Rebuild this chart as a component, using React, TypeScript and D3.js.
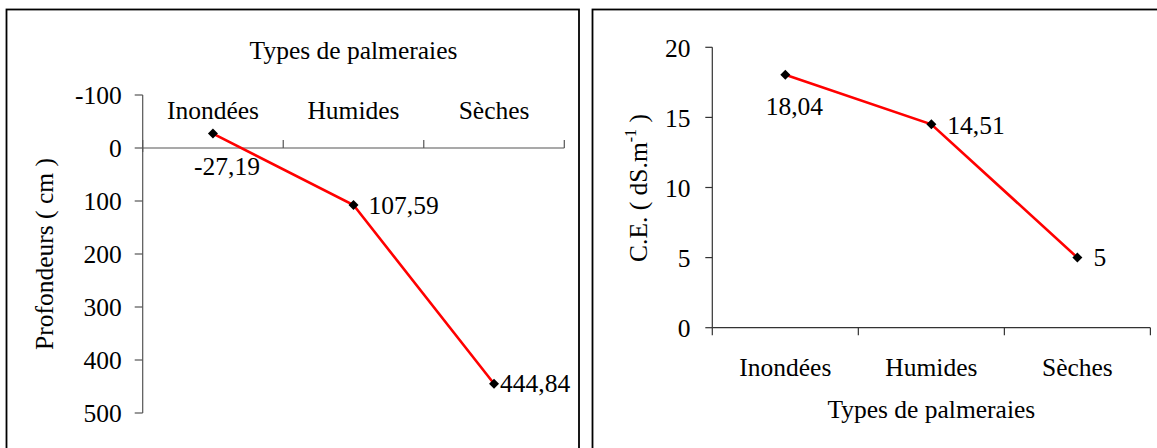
import React from "react";
import * as d3 from "d3";

// ---- Data ----
const categories = ["Inondées", "Humides", "Sèches"];
const depthValues = [-27.19, 107.59, 444.84];
const depthLabels = ["-27,19", "107,59", "444,84"];
const depthTicks = [-100, 0, 100, 200, 300, 400, 500];
const ceValues = [18.04, 14.51, 5];
const ceLabels = ["18,04", "14,51", "5"];
const ceTicks = [0, 5, 10, 15, 20];
const xTitle = "Types de palmeraies";
const depthTitle = "Profondeurs ( cm )";

// ---- Layout ----
const W = 1157;
const H = 448;
const FONT = "'Liberation Serif', 'Times New Roman', serif";
const FS = 25.5;

const left = { x0: 142.7, x1: 564.3, y0: 95, y1: 413 };
const right = { x0: 712.3, x1: 1150.4, y0: 47.3, y1: 327.7 };

const depthLabelOffsets = [
  { dx: 14, dy: 41, anchor: "middle" },
  { dx: 15, dy: 8.5, anchor: "start" },
  { dx: 6, dy: 8.5, anchor: "start" },
];
const ceLabelOffsets = [
  { dx: 9, dy: 40, anchor: "middle" },
  { dx: 16, dy: 9.5, anchor: "start" },
  { dx: 16, dy: 8, anchor: "start" },
];

const marker = d3.symbol().type(d3.symbolSquare).size(50)();

export default function App() {
  // Left chart scales
  const xL = d3.scaleBand<string>().domain(categories).range([left.x0, left.x1]).padding(0);
  const yL = d3.scaleLinear().domain([-100, 500]).range([left.y0, left.y1]);
  const lineL = d3
    .line<number>()
    .x((_, i) => (xL(categories[i]) as number) + xL.bandwidth() / 2)
    .y((d) => yL(d));

  // Right chart scales
  const xR = d3.scaleBand<string>().domain(categories).range([right.x0, right.x1]).padding(0);
  const yR = d3.scaleLinear().domain([0, 20]).range([right.y1, right.y0]);
  const lineR = d3
    .line<number>()
    .x((_, i) => (xR(categories[i]) as number) + xR.bandwidth() / 2)
    .y((d) => yR(d));

  const axisColor = "#555";
  const boundariesL = [...categories.map((c) => xL(c) as number), left.x1];
  const boundariesR = [...categories.map((c) => xR(c) as number), right.x1];

  return (
    <svg
      width={W}
      height={H}
      style={{ position: "absolute", left: 0, top: 0, background: "#fff", fontFamily: FONT }}
      fontSize={FS}
    >
      <rect x={0} y={0} width={W} height={H} fill="#fff" />
      {/* Panel borders */}
      <rect x={6.5} y={9.5} width={572.5} height={460} fill="none" stroke="#000" strokeWidth={1.8} />
      <rect x={592.5} y={9.5} width={600} height={460} fill="none" stroke="#000" strokeWidth={1.8} />

      {/* ---------- Left chart ---------- */}
      <g>
        <text x={(left.x0 + left.x1) / 2} y={58.5} textAnchor="middle">
          {xTitle}
        </text>
        {/* y axis */}
        <line x1={left.x0} x2={left.x0} y1={left.y0} y2={left.y1} stroke={axisColor} strokeWidth={1.2} />
        {depthTicks.map((t) => (
          <g key={t}>
            <line x1={left.x0 - 8} x2={left.x0} y1={yL(t)} y2={yL(t)} stroke={axisColor} strokeWidth={1.2} />
            <text x={left.x0 - 21} y={yL(t) + 9} textAnchor="end">
              {t}
            </text>
          </g>
        ))}
        {/* x axis at 0 */}
        <line x1={left.x0} x2={left.x1} y1={yL(0)} y2={yL(0)} stroke={axisColor} strokeWidth={1.2} />
        {boundariesL.map((b, i) => (
          <line key={i} x1={b} x2={b} y1={yL(0) - 8} y2={yL(0) + (i === 0 ? 4 : 0)} stroke={axisColor} strokeWidth={1.2} />
        ))}
        {categories.map((c) => (
          <text key={c} x={(xL(c) as number) + xL.bandwidth() / 2} y={119.3} textAnchor="middle">
            {c}
          </text>
        ))}
        <text transform={`translate(53,254) rotate(-90)`} textAnchor="middle">
          {depthTitle}
        </text>
        <path d={lineL(depthValues) || ""} fill="none" stroke="#ff0000" strokeWidth={2.6} />
        {depthValues.map((v, i) => {
          const cx = (xL(categories[i]) as number) + xL.bandwidth() / 2;
          const cy = yL(v);
          const o = depthLabelOffsets[i];
          return (
            <g key={i}>
              <path d={marker || ""} transform={`translate(${cx},${cy}) rotate(45)`} fill="#000" />
              <text x={cx + o.dx} y={cy + o.dy} textAnchor={o.anchor}>
                {depthLabels[i]}
              </text>
            </g>
          );
        })}
      </g>

      {/* ---------- Right chart ---------- */}
      <g>
        <line x1={right.x0} x2={right.x0} y1={right.y0} y2={right.y1} stroke="#333" strokeWidth={1.2} />
        {ceTicks.map((t) => (
          <g key={t}>
            <line x1={right.x0 - 7} x2={right.x0} y1={yR(t)} y2={yR(t)} stroke="#333" strokeWidth={1.2} />
            <text x={right.x0 - 21.7} y={yR(t) + 9.4} textAnchor="end">
              {t}
            </text>
          </g>
        ))}
        <line x1={right.x0} x2={right.x1} y1={right.y1} y2={right.y1} stroke="#333" strokeWidth={1.2} />
        {boundariesR.map((b, i) => (
          <line key={i} x1={b} x2={b} y1={right.y1} y2={right.y1 + 7.5} stroke="#333" strokeWidth={1.2} />
        ))}
        {categories.map((c) => (
          <text key={c} x={(xR(c) as number) + xR.bandwidth() / 2} y={376} textAnchor="middle">
            {c}
          </text>
        ))}
        <text x={(right.x0 + right.x1) / 2} y={418} textAnchor="middle">
          {xTitle}
        </text>
        <text transform={`translate(647,188) rotate(-90)`} textAnchor="middle">
          C.E. ( dS.m
          <tspan fontSize={16} dy={-11}>
            -1
          </tspan>
          <tspan dy={11}> )</tspan>
        </text>
        <path d={lineR(ceValues) || ""} fill="none" stroke="#ff0000" strokeWidth={2.6} />
        {ceValues.map((v, i) => {
          const cx = (xR(categories[i]) as number) + xR.bandwidth() / 2;
          const cy = yR(v);
          const o = ceLabelOffsets[i];
          return (
            <g key={i}>
              <path d={marker || ""} transform={`translate(${cx},${cy}) rotate(45)`} fill="#000" />
              <text x={cx + o.dx} y={cy + o.dy} textAnchor={o.anchor}>
                {ceLabels[i]}
              </text>
            </g>
          );
        })}
      </g>
    </svg>
  );
}
